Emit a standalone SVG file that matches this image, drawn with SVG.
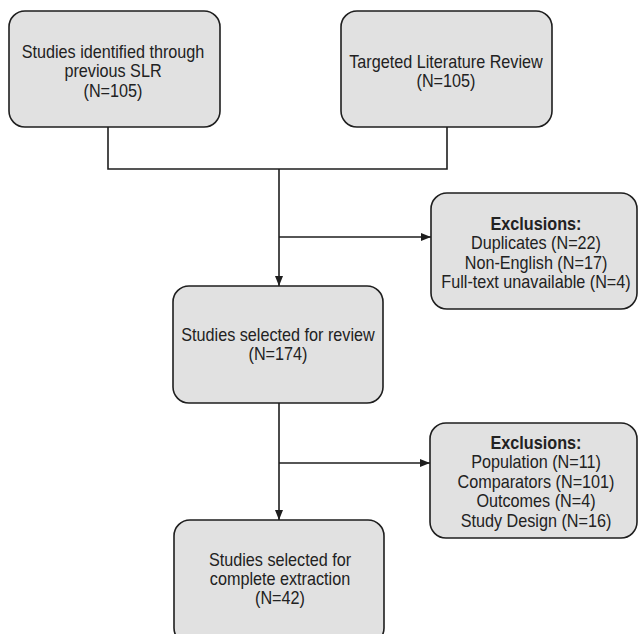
<svg xmlns="http://www.w3.org/2000/svg" width="639" height="634" viewBox="0 0 639 634">
<style>
.box{fill:#e1e1e1;stroke:#1e1e1e;stroke-width:1.6}
.t{font-family:"Liberation Sans",Arial,sans-serif;font-size:18px;fill:#222;text-anchor:middle}
.b{font-weight:bold}
.ln{fill:none;stroke:#1e1e1e;stroke-width:1.6}
</style>
<defs>
<marker id="ah" markerWidth="10" markerHeight="8" refX="10" refY="4" orient="auto" markerUnits="userSpaceOnUse">
<path d="M0,0 L10,4 L0,8 Z" fill="#1e1e1e"/>
</marker>
</defs>
<rect x="0" y="0" width="639" height="634" fill="#ffffff"/>
<g id="connectors">
<path class="ln" d="M108,127 V169 H447 V127"/>
<path class="ln" d="M279,169 V286" marker-end="url(#ah)"/>
<path class="ln" d="M279,237 H431" marker-end="url(#ah)"/>
<path class="ln" d="M279,403 V520" marker-end="url(#ah)"/>
<path class="ln" d="M279,463 H430" marker-end="url(#ah)"/>
</g>
<g id="node-slr">
<rect class="box" x="9" y="11" width="211" height="116" rx="16"/>
<g transform="translate(113,0) scale(0.9,1)">
<text class="t" x="0" y="58">Studies identified through</text>
<text class="t" x="0" y="77.5">previous SLR</text>
<text class="t" x="0" y="97">(N=105)</text>
</g>
</g>
<g id="node-tlr">
<rect class="box" x="341" y="11" width="211" height="116" rx="16"/>
<g transform="translate(446,0) scale(0.9,1)">
<text class="t" x="0" y="68">Targeted Literature Review</text>
<text class="t" x="0" y="87.5">(N=105)</text>
</g>
</g>
<g id="node-excl1">
<rect class="box" x="431" y="193" width="206" height="116" rx="16"/>
<g transform="translate(536,0) scale(0.9,1)">
<text class="t b" x="0" y="230">Exclusions:</text>
<text class="t" x="0" y="249.5">Duplicates (N=22)</text>
<text class="t" x="0" y="269">Non-English (N=17)</text>
<text class="t" x="0" y="288.5">Full-text unavailable (N=4)</text>
</g>
</g>
<g id="node-review">
<rect class="box" x="173" y="286" width="210" height="117" rx="16"/>
<g transform="translate(278,0) scale(0.9,1)">
<text class="t" x="0" y="341">Studies selected for review</text>
<text class="t" x="0" y="360">(N=174)</text>
</g>
</g>
<g id="node-excl2">
<rect class="box" x="430" y="423" width="207" height="115" rx="16"/>
<g transform="translate(536,0) scale(0.9,1)">
<text class="t b" x="0" y="449">Exclusions:</text>
<text class="t" x="0" y="468.5">Population (N=11)</text>
<text class="t" x="0" y="488">Comparators (N=101)</text>
<text class="t" x="0" y="507.5">Outcomes (N=4)</text>
<text class="t" x="0" y="527">Study Design (N=16)</text>
</g>
</g>
<g id="node-extraction">
<rect class="box" x="174" y="520" width="210" height="124" rx="16"/>
<g transform="translate(280,0) scale(0.9,1)">
<text class="t" x="0" y="566">Studies selected for</text>
<text class="t" x="0" y="585">complete extraction</text>
<text class="t" x="0" y="604">(N=42)</text>
</g>
</g>
</svg>
